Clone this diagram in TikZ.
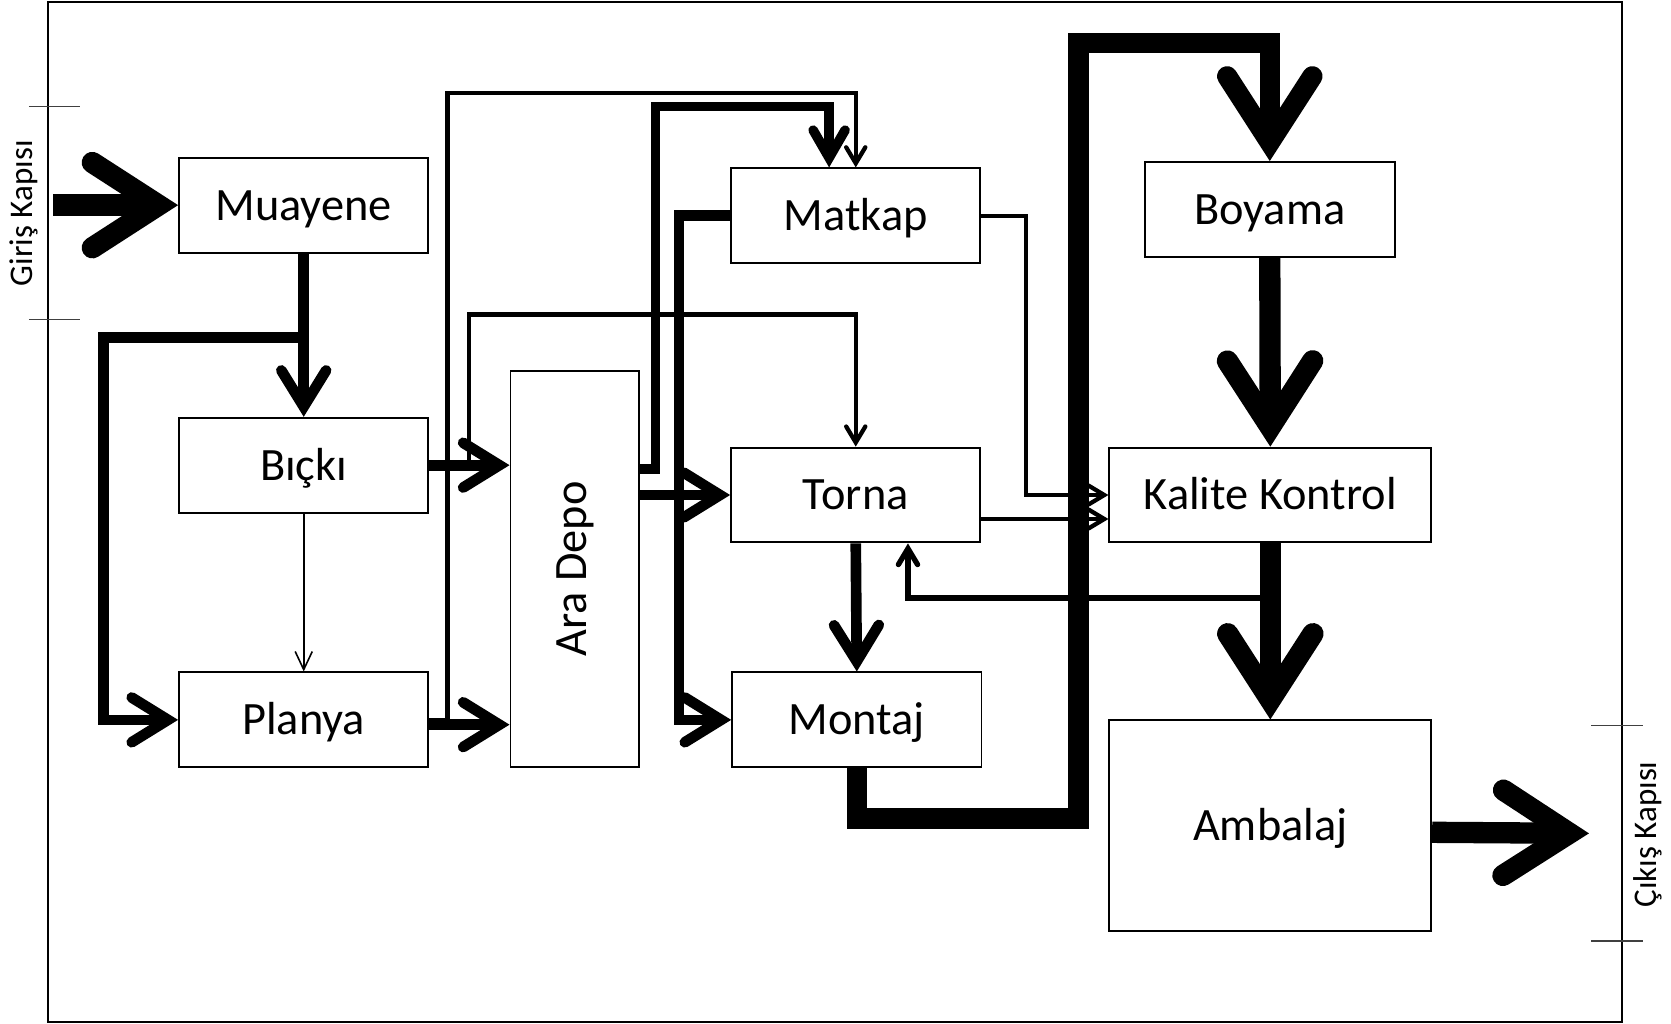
\documentclass[tikz,border=0pt]{standalone}
\usepackage{fontspec}
\setmainfont{Carlito}
\usetikzlibrary{arrows.meta,calc}
\begin{document}
\begin{tikzpicture}[x=1pt,y=-1pt,
  box/.style={draw, line width=1.8pt, inner sep=0pt, font=\fontsize{43.5}{50}\selectfont, text height=28pt, text depth=0pt, minimum width=234pt, minimum height=89pt},
  gate/.style={font=\fontsize{31}{36}\selectfont, inner sep=0pt},
  tickline/.style={line width=1pt, draw=black!75},
  hugearrow/.style={line width=20pt, -{Straight Barb[length=62pt, width=80pt, line cap=round, line join=miter]}},
  bigarrow/.style={line width=10pt, -{Straight Barb[length=34pt, width=42pt, line cap=round, line join=miter]}},
  bigsmall/.style={line width=9pt, -{Straight Barb[length=26pt, width=30pt, line cap=round, line join=miter]}},
  medarrow/.style={line width=4pt, -{Straight Barb[length=15pt, width=18pt, line cap=round, line join=miter]}},
  thinarrow/.style={line width=1.5pt, -{Straight Barb[length=17pt, width=16pt]}}
]
\useasboundingbox (0,0) rectangle (1568,960);
\fill[white] (0,0) rectangle (1568,960);
% frame
\draw[line width=1.5pt] (45,2) rectangle (1522,959);
\draw[tickline] (27,100) -- (75,100);
\draw[tickline] (27,300) -- (75,300);
\draw[tickline] (1493,681) -- (1542,681);
\draw[tickline] (1493,883) -- (1542,883);
\node[gate, rotate=90] (giris) at (22,200) {Giriş Kapısı};
\node[gate, rotate=90] (cikis) at (1546,783) {Çıkış Kapısı};

% boxes
\node[box] (mua) at (285,192.5) {Muayene};
\node[box] (bic) at (285,436.5) {Bıçkı};
\node[box] (pla) at (285,675.5) {Planya};
\node[draw, line width=1.8pt, inner sep=0pt, font=\fontsize{43.5}{50}\selectfont, minimum width=121pt, minimum height=372pt] (ara) at (539.5,534) {\rotatebox{90}{Ara Depo}};
\node[box] (mat) at (803,202.5) {Matkap};
\node[box] (tor) at (803,464.5) {Torna};
\node[box] (mon) at (804,675.5) {Montaj};
\node[box, minimum width=235pt] (boy) at (1191.5,196.5) {Boyama};
\node[box, minimum width=302pt] (kal) at (1192,464.5) {Kalite Kontrol};
\node[box, minimum width=302pt, minimum height=198pt] (amb) at (1192,775) {Ambalaj};

% coordinates
\coordinate (inp) at (50,192.5);
\coordinate (j1) at (285,317);
\coordinate (matin) at ($(mat.north)+(-25,0)$);
\coordinate (fb) at (1182,561);
\coordinate (tfb) at (tor.south -| 852,0);
\coordinate (out) at (1491,782);

% medium / thin connectors
\draw[thinarrow] (bic.south) -- (pla.north);
\draw[medarrow] (pla.east) -| (420,87) -| (mat.north);
\draw[medarrow] (bic.east) -| (440,295) -| (tor.north);
\draw[medarrow] (mat.east) -| (963,0 |- kal.west) -- (kal.west);
\draw[medarrow] (tor.east |- 0,487) -- (kal.west |- 0,487);
\draw[medarrow, line width=5pt] (fb) -| (tfb);

% thick connectors
\draw[bigarrow] (mua.south) -- (bic.north);
\draw[bigarrow] (j1) -| (97,0 |- pla.west) -- (pla.west);
\draw[bigarrow] (bic.east) -- (ara.west |- bic.east);
\draw[bigarrow] (pla.east |- 0,680) -- (ara.west |- 0,680);
\draw[bigsmall] (ara.east |- 0,440) -| (615,100) -| (matin);
\draw[bigarrow] (ara.east |- tor.west) -- (tor.west);
\draw[bigarrow] (mat.west) -| (637,0 |- mon.west) -- (mon.west);
\draw[bigarrow] (tor.south) -- (mon.north);

% very thick connectors
\draw[hugearrow] (inp) -- (mua.west);
\draw[hugearrow, line width=19pt] (mon.south) |- (1012,768) -- (1012,40) -| (boy.north);
\draw[hugearrow] (boy.south) -- (kal.north);
\draw[hugearrow] (kal.south) -- (amb.north);
\draw[hugearrow] (amb.east |- 0,781) -- (out);
\end{tikzpicture}
\end{document}
